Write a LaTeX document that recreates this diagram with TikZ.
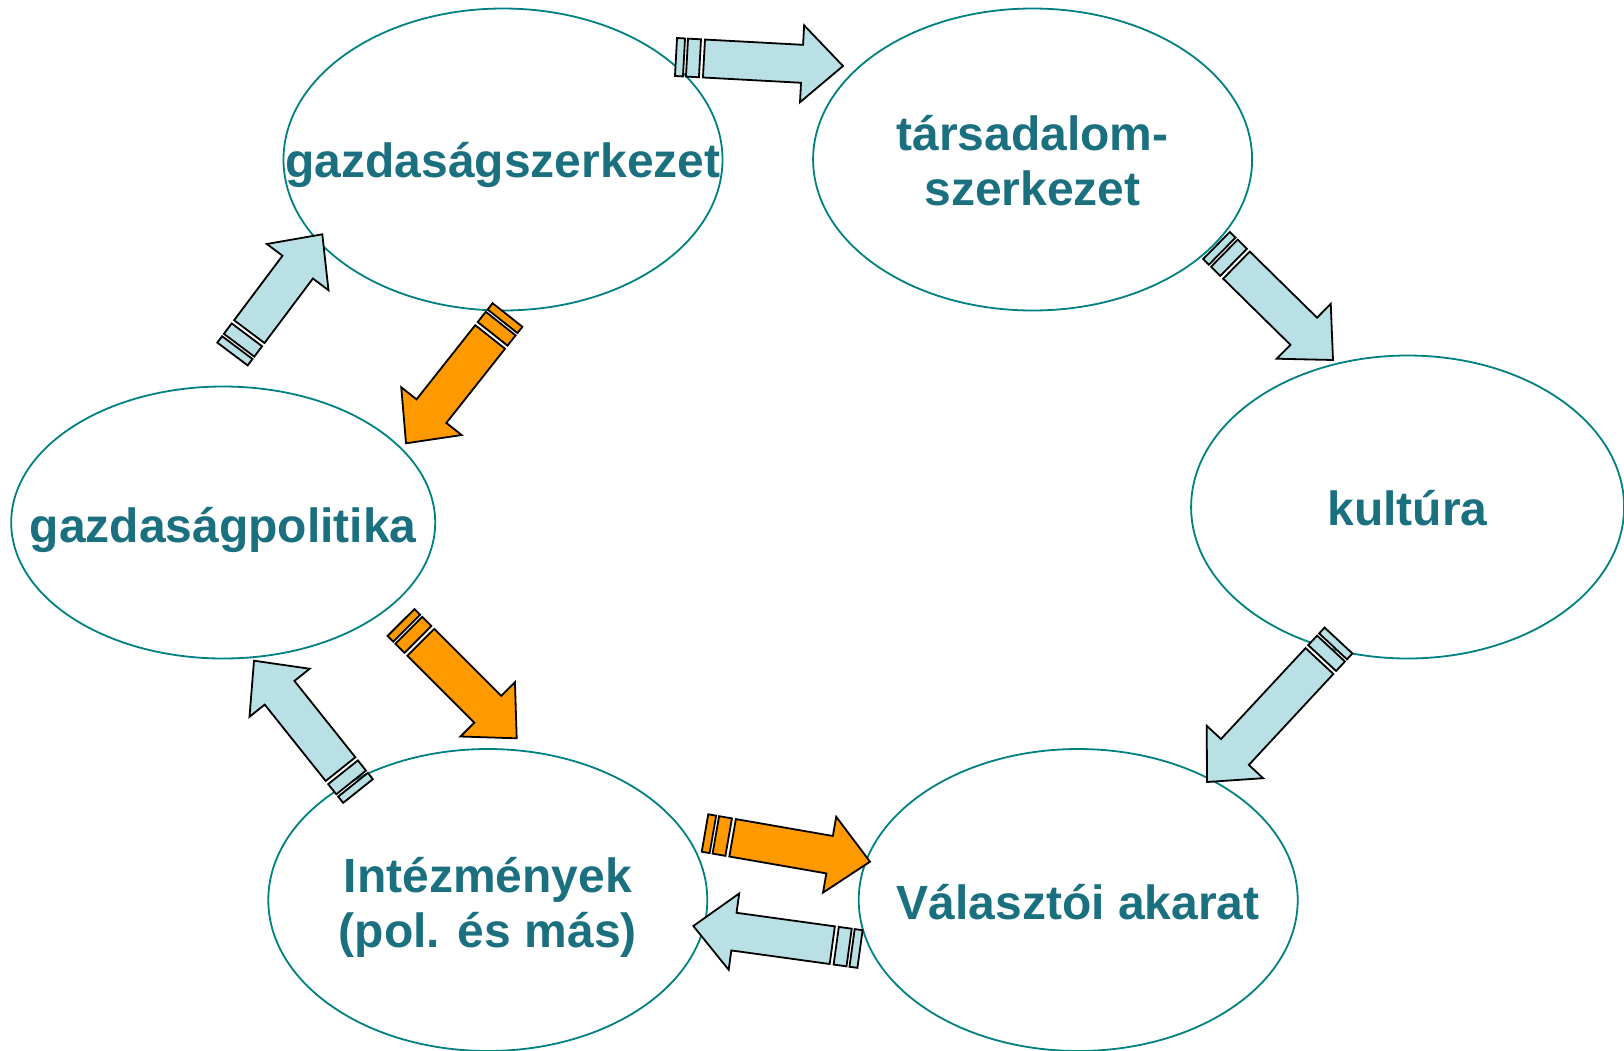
\documentclass[tikz,border=0pt]{standalone}
\usepackage{fontspec}
\setmainfont{Liberation Sans}
\usetikzlibrary{shapes.geometric}

\definecolor{bubbleline}{RGB}{0,128,128}
\definecolor{bubbletext}{RGB}{27,112,128}
\definecolor{arrowblue}{RGB}{185,224,228}
\definecolor{arroworange}{RGB}{255,153,0}

\tikzset{
  bubble/.style={ellipse,draw=bubbleline,line width=1.8pt,inner sep=0pt,
    minimum width=439pt,minimum height=302pt},
  bubblelabel/.style={text=bubbletext,align=center,inner sep=0pt,
    font=\fontsize{48}{55}\selectfont\bfseries},
  stripe/.style={draw=black,line width=1.8pt,line join=miter},
}

% striped block arrow: tail, head, fill colour
\newcommand{\stripedarrow}[3]{%
  \path (#1); \pgfgetlastxy{\xa}{\ya}
  \path (#2); \pgfgetlastxy{\xb}{\yb}
  \pgfmathsetmacro{\arrang}{atan2((\yb)-(\ya),(\xb)-(\xa))}
  \pgfmathsetmacro{\arrlen}{veclen((\xb)-(\xa),(\yb)-(\ya))}
  \begin{scope}[shift={(#1)},rotate=\arrang,x=1pt,y=1pt]
    \filldraw[stripe,fill=#3] (0,-19) rectangle (8,19);
    \filldraw[stripe,fill=#3] (11,-19) rectangle (24,19);
    \filldraw[stripe,fill=#3] (28,-19) -- ({\arrlen-41},-19) -- ({\arrlen-41},-38.5)
      -- (\arrlen,0) -- ({\arrlen-41},38.5) -- ({\arrlen-41},19) -- (28,19) -- cycle;
  \end{scope}
}

\begin{document}
\begin{tikzpicture}[x=1pt,y=-1pt]
  \fill[white] (0,0) rectangle (1624,1050);
  \useasboundingbox (0,0) rectangle (1624,1050);
  \clip (0,0) rectangle (1624,1050);

  % bubbles
  \node[bubble] (szerk) at (503,159.5) {};
  \node[bubble] (tarsad) at (1032.6,159.5) {};
  \node[bubble,minimum width=433pt,minimum height=303pt] (kult) at (1407.6,507) {};
  \node[bubble,minimum width=424pt,minimum height=272pt] (gpol) at (223.2,522.5) {};
  \node[bubble] (intez) at (487.8,900) {};
  \node[bubble] (valaszt) at (1078.2,900) {};

  \node[bubblelabel] (szerk-txt) at ([yshift=-5pt]szerk) {gazdaságszerkezet};
  \node[bubblelabel] (tarsad-txt) at ([yshift=-1pt]tarsad) {társadalom-\\szerkezet};
  \node[bubblelabel] (kult-txt) at ([yshift=-1pt]kult) {kultúra};
  \node[bubblelabel] (gpol-txt) at ([yshift=-7pt]gpol) {gazdaságpolitika};
  \node[bubblelabel] (intez-txt) at ([yshift=-7pt]intez) {Intézmények\\(pol. és más)};
  \node[bubblelabel] (valaszt-txt) at ([yshift=-2pt]valaszt) {Választói akarat};

  % arrow ends
  \coordinate (T1) at (676,57);     \coordinate (H1) at (843,66);
  \coordinate (T2) at (1216.5,245.5); \coordinate (H2) at (1333,360);
  \coordinate (T3) at (1338.5,640.5); \coordinate (H3) at (1207,782);
  \coordinate (T4) at (860,949);    \coordinate (H4) at (693.3,926);
  \coordinate (T5) at (705,833);    \coordinate (H5) at (870,861.7);
  \coordinate (T6) at (358,791);    \coordinate (H6) at (254,660.7);
  \coordinate (T7) at (401,622.5);  \coordinate (H7) at (516.7,738.3);
  \coordinate (T8) at (232.5,354);  \coordinate (H8) at (322.3,234.3);
  \coordinate (T9) at (507.5,315);  \coordinate (H9) at (406,443.3);

  \stripedarrow{T1}{H1}{arrowblue}
  \stripedarrow{T2}{H2}{arrowblue}
  \stripedarrow{T3}{H3}{arrowblue}
  \stripedarrow{T4}{H4}{arrowblue}
  \stripedarrow{T5}{H5}{arroworange}
  \stripedarrow{T6}{H6}{arrowblue}
  \stripedarrow{T7}{H7}{arroworange}
  \stripedarrow{T8}{H8}{arrowblue}
  \stripedarrow{T9}{H9}{arroworange}
\end{tikzpicture}
\end{document}
